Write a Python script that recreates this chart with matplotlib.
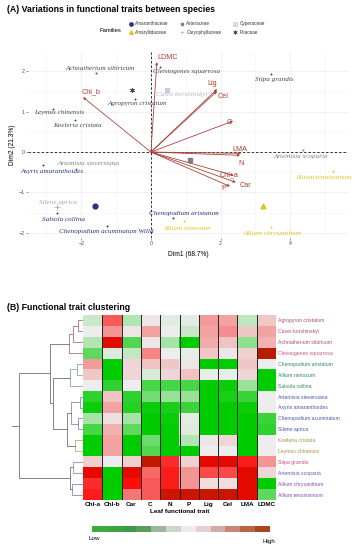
import numpy as np
import matplotlib
matplotlib.use("Agg")
import matplotlib.pyplot as plt
from matplotlib.colors import LinearSegmentedColormap, ListedColormap
from matplotlib.lines import Line2D

plt.rcParams["font.family"] = ["Liberation Sans", "DejaVu Sans"]

# ---------------------------
# dados
# ---------------------------
species = ["Agropyron cristatum", "Carex korshinskyi", "Achnatherium sibiricum",
           "Cleistogenes squarrosa", "Chenopodium aristatum", "Allium ramosum",
           "Salsola collina", "Artemisia sieversiana", "Axyris amaranthoides",
           "Chenopodium acuminatum", "Silene aprica", "Koeleria cristata",
           "Leymus chinensis", "Stipa grandis", "Artemisia scoparia",
           "Allium chrysanthum", "Allium tenuissimum"]
pca_names = species[:9] + ["Chenopodium acuminatum Willd"] + species[10:]
family = ["Poaceae", "Cyperaceae", "Poaceae", "Poaceae", "Amaranthaceae",
          "Amaryllidaceae", "Amaranthaceae", "Asteraceae", "Amaranthaceae",
          "Amaranthaceae", "Caryophyllaceae", "Poaceae", "Poaceae", "Poaceae",
          "Asteraceae", "Amaryllidaceae", "Amaryllidaceae"]
dim1 = [-0.46, 0.46, -1.58, 0.26, 0.63, 0.95, -2.70, -2.15, -3.10, -1.26,
        -2.70, -2.18, -2.82, 3.45, 4.37, 3.45, 5.23]
dim2 = [1.32, 1.54, 1.96, 2.11, -1.64, -1.71, -1.51, -0.42, -0.33, -1.84,
        -1.37, 0.79, 1.07, 1.94, 0.05, -1.86, -0.47]

traits = ["LDMC", "Chl_b", "Lig", "Cel", "C", "LMA", "N", "Chl_a", "Car", "P"]
load1 = [0.17, -1.95, 1.90, 1.90, 2.36, 2.59, 2.56, 2.38, 2.44, 2.27]
load2 = [2.23, 1.36, 1.56, 1.51, 0.77, -0.03, -0.08, -0.58, -0.75, -0.85]

families = ["Amaranthaceae", "Amaryllidaceae", "Asteraceae",
            "Caryophyllaceae", "Cyperaceae", "Poaceae"]
fam_color = {"Amaranthaceae": "#26367f", "Amaryllidaceae": "#d8c81c",
             "Asteraceae": "#808080", "Caryophyllaceae": "#b8a49c",
             "Cyperaceae": "#b4b8cc", "Poaceae": "#3a4a5e"}

hm_traits = ["Chl-a", "Chl-b", "Car", "C", "N", "P", "Lig", "Cel", "LMA", "LDMC"]
heat = [
    [-0.3, 1.0, -0.5, 0.05, -0.1, -0.1, 0.55, 0.5, -0.4, 0.25],
    [0.0, 0.6, 0.05, 0.5, 0.0, -0.3, 0.5, 0.65, 0.25, 0.5],
    [-0.5, 1.95, -1.3, 0.05, -0.6, -2.0, 0.45, 0.3, -0.8, 0.4],
    [-1.2, -0.15, -0.35, 0.7, 0.0, -0.05, 0.25, 0.05, 0.2, 2.4],
    [0.55, -2.0, 0.15, 0.3, 0.25, 0.05, -2.0, -2.0, 0.25, 0.0],
    [0.25, -2.0, 0.15, -0.2, 0.15, 0.3, -0.05, -0.05, 0.15, -2.0],
    [0.0, -1.6, 0.0, -1.4, -1.4, -1.4, -2.0, -1.9, -0.7, -2.0],
    [-1.6, 0.3, -1.6, -1.0, -0.7, -0.7, -2.0, -1.8, -1.5, 0.0],
    [-1.9, 0.5, -1.7, -1.9, -1.8, -1.5, -2.0, -2.0, -1.9, 0.0],
    [-0.6, 0.1, -0.6, -2.0, -1.9, -0.1, -2.0, -2.0, -2.0, -1.5],
    [-1.4, 0.4, -1.2, -2.0, -2.0, -0.15, -2.0, -2.0, -2.0, -1.6],
    [-2.0, 0.5, -2.0, -1.1, -2.0, -0.5, 0.05, 0.15, -2.0, 0.0],
    [-2.0, 0.5, -2.0, -1.3, -2.0, -2.0, 0.0, 0.0, -2.0, 0.0],
    [0.2, 0.0, 0.2, 2.3, 1.3, 0.2, 1.9, 1.9, 1.4, 0.6],
    [1.9, -2.0, 1.9, 0.9, 1.4, 0.6, 1.1, 1.1, 1.9, 0.15],
    [1.3, -2.0, 1.5, 1.0, 1.4, 0.6, 0.1, 0.1, 1.9, -2.0],
    [1.4, -2.0, 0.8, 1.0, 2.2, 2.2, 2.2, 2.2, 1.9, -1.2],
]
row_colors = ["#a8506e", "#b0506e", "#a8506e", "#c85a7a", "#2e8b57", "#2e8b57",
              "#2e8b57", "#4a55a8", "#4a55a8", "#4a55a8", "#4a55a8", "#a89040",
              "#a89040", "#c0507a", "#5a60b0", "#8a4ab0", "#8a4ab0"]

# dendrograma: (filho a, filho b, altura); folhas 0..16, nós novos a partir de 17
merge_a = [0, 17, 18, 4, 20, 7, 9, 22, 11, 24, 21, 19, 13, 15, 29, 28]
merge_b = [1, 2, 3, 5, 6, 8, 10, 23, 12, 25, 26, 27, 14, 16, 30, 31]
merge_h = [5, 10, 14, 6, 13, 3, 5, 12, 8, 16, 30, 33, 10, 11, 13, 64]
leaf_group = [0, 0, 0, 0, 1, 1, 1, 2, 2, 2, 2, 3, 3, 4, 4, 5, 5]
group_colors = ["#a8707a", "#90a890", "#7f8db8", "#c8a870", "#c8809a", "#9a80c0"]

cb_colors = ["#3daa3d", "#3da63d", "#3f9a48", "#5a9c5a", "#9ab89a", "#cdd3cd",
             "#ececec", "#e4d0d0", "#d4aaa4", "#c88474", "#bc6448", "#ac4420"]

# deslocamentos dos rótulos (px)
sp_off = [(2, 5), (15, 5), (4, -4), (27, 5), (11, -5), (3, 7), (7, 7), (12, -6),
          (9, 6), (-1, 5), (1, -5), (2, 5), (6, 4), (3, 6), (-2, 6), (1, 6), (-9, 6)]
tr_off = [(11, -5), (8, -5), (-5, -6), (6, 5), (-4, 2), (-1, -4), (1, 8),
          (-5, -1), (10, 3), (-6, 2)]

W, H = 356, 550
fig = plt.figure(figsize=(W / 100, H / 100), dpi=100)

def fr(x0, y0, x1, y1):
    return [x0 / W, 1 - y1 / H, (x1 - x0) / W, (y1 - y0) / H]

# ============================================================
# (A) PCA biplot
# ============================================================
fig.text(7 / W, 1 - 10 / H, "(A) Variations in functional traits between species",
         fontsize=6.3, fontweight="bold", va="center", ha="left")

ax = fig.add_axes(fr(28, 52, 348, 238))
ax.set_xlim(-3.53, 5.66)
ax.set_ylim(-2.13, 2.48)
ax.set_xticks([-2, 0, 2, 4])
ax.set_xticks([-3, -1, 1, 3, 5], minor=True)
ax.set_yticks([-2, -1, 0, 1, 2])
ax.set_yticks([-1.5, -0.5, 0.5, 1.5], minor=True)
ax.grid(True, which="major", color="#ebebeb", lw=0.5)
ax.grid(True, which="minor", color="#f2f2f2", lw=0.4)
ax.set_axisbelow(True)
for s in ax.spines.values():
    s.set_visible(False)
ax.tick_params(labelsize=3.8, labelcolor="#4d4d4d", color="#4d4d4d",
               length=1.5, width=0.4, pad=1)
ax.tick_params(which="minor", length=0)
ax.axhline(0, color="#333333", lw=0.7, ls=(0, (2.5, 2)))
ax.axvline(0, color="#333333", lw=0.7, ls=(0, (2.5, 2)))
ax.set_xlabel("Dim1 (68.7%)", fontsize=4.8, labelpad=3)
ax.set_ylabel("Dim2 (21.3%)", fontsize=4.8, labelpad=2)

# setas das variáveis
for t, lx, ly, (dx, dy) in zip(traits, load1, load2, tr_off):
    ax.annotate("", xy=(lx, ly), xytext=(0, 0),
                arrowprops=dict(arrowstyle="-|>", color="#a8453a", lw=0.6,
                                mutation_scale=3.5, shrinkA=0, shrinkB=0))
    ax.annotate(t, xy=(lx, ly), xytext=(dx * 0.72, -dy * 0.72),
                textcoords="offset points", ha="center", va="center",
                fontsize=5.2, color="#b03a30")

# espécies
for nm, f, x, y, (dx, dy) in zip(pca_names, family, dim1, dim2, sp_off):
    c = fam_color[f]
    ax.plot(x, y, "o", ms=1.4, color=c, mec="none")
    ax.annotate(nm, xy=(x, y), xytext=(dx * 0.72, -dy * 0.72),
                textcoords="offset points", ha="center", va="center",
                fontsize=5.1, color=c, family="Liberation Serif", style="italic")

# médias por família
d1 = np.array(dim1)
d2 = np.array(dim2)
fam_arr = np.array(family)
fam_marker = {"Amaranthaceae": dict(marker="o", ms=3.5),
              "Amaryllidaceae": dict(marker="^", ms=3.5),
              "Asteraceae": dict(marker="s", ms=2.6),
              "Caryophyllaceae": dict(marker="+", ms=4.5, mew=0.5),
              "Cyperaceae": dict(marker="s", ms=3, mfc="none", mew=0.5),
              "Poaceae": dict(marker=(6, 2, 0), ms=3.5, mew=0.5)}
for f in families:
    m = fam_arr == f
    ax.plot(d1[m].mean(), d2[m].mean(), color=fam_color[f], ls="none",
            **fam_marker[f])
    if f == "Cyperaceae":
        ax.plot(d1[m].mean(), d2[m].mean(), color=fam_color[f], marker="x",
                ms=2.5, mew=0.5, ls="none")

leg_marker = {"Amaranthaceae": dict(marker="o", ms=2.4),
              "Amaryllidaceae": dict(marker="^", ms=2.6),
              "Asteraceae": dict(marker="s", ms=2.0),
              "Caryophyllaceae": dict(marker="+", ms=3.5, mew=0.4),
              "Cyperaceae": dict(marker="s", ms=2.4, mfc="none", mew=0.4),
              "Poaceae": dict(marker=(6, 2, 0), ms=3.0, mew=0.4)}
handles = []
for f in families:
    h = Line2D([], [], color=fam_color[f], ls="none", **leg_marker[f])
    if f == "Cyperaceae":
        h = (h, Line2D([], [], color=fam_color[f], marker="x", ms=2.0, mew=0.4, ls="none"))
    handles.append(h)
fig.legend(handles, families, loc="upper left", bbox_to_anchor=(126 / W, 1 - 19 / H),
           ncol=3, frameon=False, fontsize=3.3, handlelength=1.0,
           handletextpad=0.5, columnspacing=2.4, labelspacing=0.75,
           borderpad=0, labelcolor="#333333")
fig.text(110 / W, 1 - 31 / H, "Families", fontsize=4.2, ha="center", va="center")

# ============================================================
# (B) Heatmap + dendrograma
# ============================================================
fig.text(7 / W, 1 - 308 / H, "(B) Functional trait clustering",
         fontsize=6.3, fontweight="bold", va="center", ha="left")

hm_cmap = LinearSegmentedColormap.from_list(
    "gr", [(0, "#00cc00"), (0.444, "#eeeeee"), (0.8, "#ff0000"), (1.0, "#b02000")])
axh = fig.add_axes(fr(83, 315, 276, 500))
axh.imshow(np.array(heat), cmap=hm_cmap, vmin=-2, vmax=2.5, aspect="auto",
           interpolation="nearest")
for j in range(1, len(hm_traits)):
    axh.axvline(j - 0.5, color="#222222", lw=0.7)
for s in axh.spines.values():
    s.set_visible(False)
axh.set_xticks(range(len(hm_traits)))
axh.set_xticklabels(hm_traits, fontsize=4.6, fontweight="bold")
axh.yaxis.tick_right()
axh.set_yticks(range(len(species)))
axh.set_yticklabels(species, fontsize=3.7)
for lab, c in zip(axh.get_yticklabels(), row_colors):
    lab.set_color(c)
axh.tick_params(length=0, pad=1.5)
axh.set_xlabel("Leaf functional trait", fontsize=4.6, fontweight="bold", labelpad=1.5)

# dendrograma
axd = fig.add_axes(fr(10, 315, 83, 500))
n = len(species)
ypos = {i: float(i) for i in range(n)}
hgt = {i: 0.0 for i in range(n)}
grp = {i: leaf_group[i] for i in range(n)}
for k, (a, b, h) in enumerate(zip(merge_a, merge_b, merge_h)):
    node = n + k
    g = grp[a] if grp[a] == grp[b] else None
    col = group_colors[g] if g is not None else "#707070"
    axd.plot([hgt[a], h, h, hgt[b]], [ypos[a], ypos[a], ypos[b], ypos[b]],
             color=col, lw=0.6)
    ypos[node] = (ypos[a] + ypos[b]) / 2
    hgt[node] = h
    grp[node] = g
root = n + len(merge_h) - 1
axd.plot([hgt[root], hgt[root] + 7], [ypos[root], ypos[root]], color="#707070", lw=0.6)
axd.set_xlim(73, 0)
axd.set_ylim(n - 0.5, -0.5)
axd.axis("off")

# barra de cores
cax = fig.add_axes(fr(92, 526, 270, 532))
cax.imshow(np.arange(len(cb_colors))[None, :], cmap=ListedColormap(cb_colors),
           aspect="auto", interpolation="nearest")
cax.axis("off")
fig.text(94 / W, 1 - 539 / H, "Low", fontsize=4.5, ha="center", va="center")
fig.text(269 / W, 1 - 541 / H, "High", fontsize=4.5, ha="center", va="center")

fig.savefig("out.png", dpi=100)
